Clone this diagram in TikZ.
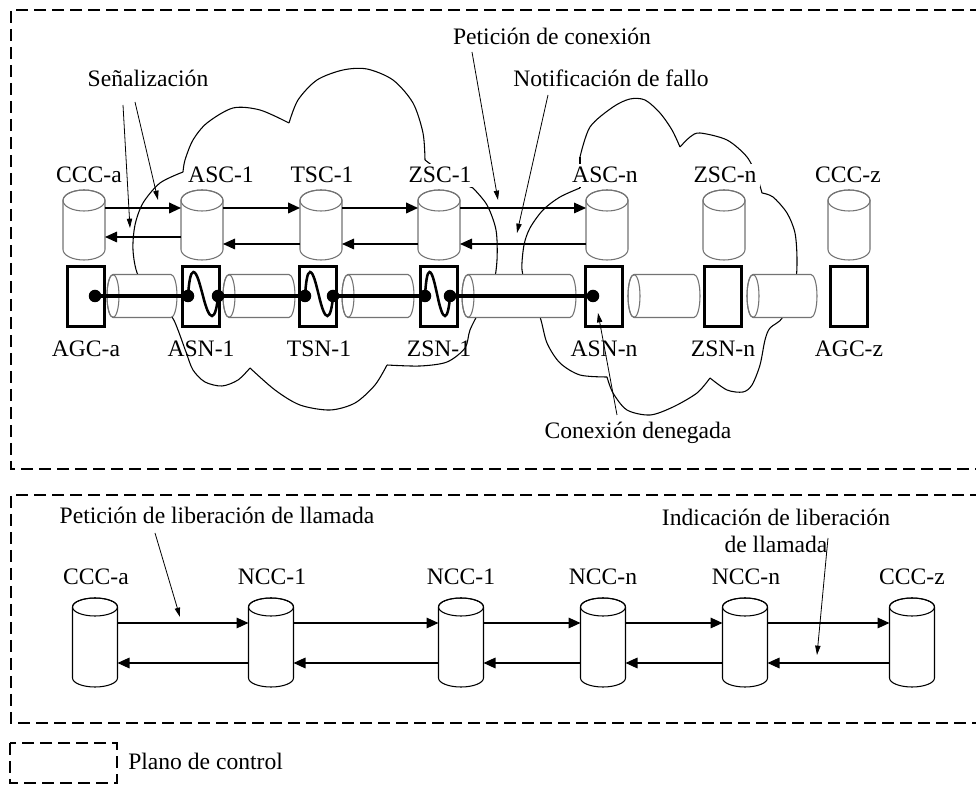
\documentclass[tikz,border=0pt]{standalone}
\usepackage{fontspec}
\setmainfont{Liberation Serif}
\usetikzlibrary{arrows.meta,calc}
\definecolor{cylgray}{gray}{0.45}

% vertical signalling controller (grey cylinder): name, centre x
\newcommand\topcyl[2]{%
  \draw[cylgray,line width=0.8pt,fill=white]
    ({#2-21},200.5) -- ({#2-21},249.5)
    arc[start angle=180,end angle=0,x radius=21,y radius=10.5]
    -- ({#2+21},200.5)
    arc[start angle=0,end angle=-180,x radius=21,y radius=10.5] -- cycle;
  \draw[cylgray,line width=0.8pt] (#2,200.5) ellipse[x radius=21,y radius=10.5];
  \node[slot,minimum width={42*0.75pt},minimum height={70*0.75pt}] (#1) at (#2,225) {};
}
% vertical call controller (black cylinder): name, centre x
\newcommand\botcyl[2]{%
  \draw[line width=0.8pt,fill=white]
    ({#2-22.5},607) -- ({#2-22.5},678)
    arc[start angle=180,end angle=0,x radius=22.5,y radius=9]
    -- ({#2+22.5},607)
    arc[start angle=0,end angle=-180,x radius=22.5,y radius=9] -- cycle;
  \draw[line width=0.8pt] (#2,607) ellipse[x radius=22.5,y radius=9];
  \node[slot,minimum width={45*0.75pt},minimum height={89*0.75pt}] (#1) at (#2,642.5) {};
}
% horizontal link (grey pipe): left x, right x
\newcommand\pipe[2]{%
  \draw[cylgray,line width=0.8pt,fill=white]
    ({#1+6},274.5) -- ({#2-6},274.5)
    arc[start angle=-90,end angle=90,x radius=6,y radius=21.5]
    -- ({#1+6},317.5)
    arc[start angle=90,end angle=270,x radius=6,y radius=21.5] -- cycle;
  \draw[cylgray,line width=0.8pt] ({#1+6},296) ellipse[x radius=6,y radius=21.5];
}
% cross-connection inside a switch: left dot x, right dot x
\newcommand\wave[2]{%
  \draw[line width=1.9pt]
    (#1,296) .. controls ({#1+0.03*(#2-#1)},283) and ({#1+0.08*(#2-#1)},272) ..
    ({#1+0.18*(#2-#1)},272) .. controls ({#1+0.30*(#2-#1)},272) and ({#1+0.40*(#2-#1)},285) ..
    ({#1+0.5*(#2-#1)},296) .. controls ({#1+0.60*(#2-#1)},308) and ({#1+0.70*(#2-#1)},316) ..
    ({#1+0.8*(#2-#1)},316) .. controls ({#1+0.90*(#2-#1)},316) and ({#1+0.97*(#2-#1)},307) ..
    (#2,296);
}

\begin{document}
\begin{tikzpicture}[x=0.75pt,y=-0.75pt,
  slot/.style={inner sep=0pt,outer sep=0pt},
  plane/.style={line width=1.5pt,dash pattern=on 9pt off 4.5pt},
  lbl/.style={font=\fontsize{17.7}{21}\selectfont,inner sep=0pt,anchor=base},
  toplbl/.style={lbl,fill=white,inner sep=2.5pt},
  sw/.style={draw,line width=2.4pt,fill=white,inner sep=0pt,
    minimum width={37*0.75pt},minimum height={60*0.75pt}},
  dot/.style={circle,fill,inner sep=0pt,minimum size={12.5*0.75pt}},
  fwd/.style={line width=1.4pt,-{Triangle[length=9pt,width=8pt]}},
  msg/.style={line width=0.8pt,-{Triangle[length=9pt,width=8pt]}},
  ptr/.style={line width=0.6pt,-{Triangle[length=7pt,width=4pt]}},
  cloud/.style={line width=0.8pt}]
\useasboundingbox (0,0) rectangle (976,787);

% control plane outlines
\draw[plane] (1000,10) -- (11,10) -- (11,469) -- (1000,469);
\draw[plane] (1000,495) -- (11,495) -- (11,723) -- (1000,723);
\draw[plane] (10,743) rectangle (117,783);

% network 1
\draw[cloud] plot[smooth] coordinates {(183,172) (185,160) (193,140) (207,123) (233,108) (260,110) (289,123)};
\draw[cloud] plot[smooth] coordinates {(289,123) (298,100) (317,80) (343,70) (367,69) (393,80) (413,103) (423,133) (425,160)};
\draw[cloud] plot[smooth] coordinates {(425,160) (450,178) (473,188)};
\draw[cloud] plot[smooth] coordinates {(473,188) (487,205) (496,230) (497,260) (493,285) (480,310) (470,330) (465,348) (447,362) (420,366) (387,365)};
\draw[cloud] plot[smooth] coordinates {(387,365) (375,385) (355,403) (330,410) (300,405) (275,390) (250,368)};
\draw[cloud] plot[smooth] coordinates {(250,368) (238,380) (222,386) (205,382) (193,370) (186,352) (178,330) (172,317) (155,295) (138,275) (133,250) (135,225) (143,203) (160,183) (183,172)};

% network n
\draw[cloud] plot[smooth] coordinates {(580,157) (590,127) (613,107) (630,99) (645,100) (660,113) (672,130) (680,147)};
\draw[cloud] plot[smooth] coordinates {(680,147) (690,137) (700,133) (727,140) (747,157) (757,177) (762,193)};
\draw[cloud] plot[smooth] coordinates {(762,193) (773,197) (787,213) (795,233) (797,260) (795,285) (783,317) (770,328) (765,340) (760,365) (752,385) (743,392) (727,390) (710,378)};
\draw[cloud] plot[smooth] coordinates {(710,378) (697,393) (673,407) (650,415) (627,410) (613,393) (607,377)};
\draw[cloud] plot[smooth] coordinates {(607,377) (580,375) (560,363) (547,343) (540,317) (528,290) (522,270) (524,245) (530,228) (543,210) (560,197) (580,188)};
\draw[cloud] (580,188) -- (580,157);

% signalling controllers
\topcyl{ccca}{84}
\topcyl{asc1}{202}
\topcyl{tsc1}{321}
\topcyl{zsc1}{439}
\topcyl{ascn}{607}
\topcyl{zscn}{724}
\topcyl{cccz}{849}

% links
\pipe{107}{177}
\pipe{223}{295}
\pipe{342}{414}
\pipe{462}{576}
\pipe{628}{700}
\pipe{747}{817}

% switches
\node[sw] (agca) at (86,296.5) {};
\node[sw] (asn1) at (201,296.5) {};
\node[sw] (tsn1) at (318,296.5) {};
\node[sw] (zsn1) at (439,296.5) {};
\node[sw] (asnn) at (604,296.5) {};
\node[sw] (zsnn) at (723,296.5) {};
\node[sw] (agcz) at (849,296.5) {};

% connection points
\node[dot] (d0) at (95,296) {};
\node[dot] (d1) at (188,296) {};
\node[dot] (d2) at (218,296) {};
\node[dot] (d3) at (305,296) {};
\node[dot] (d4) at (333,296) {};
\node[dot] (d5) at (425,296) {};
\node[dot] (d6) at (450,296) {};
\node[dot] (d7) at (593,296) {};

% established connection segments
\draw[line width=3.3pt] (d0.center) -- (d1.center);
\draw[line width=3.3pt] (d2.center) -- (d3.center);
\draw[line width=2.4pt] (d4.center) -- (d5.center);
\draw[line width=3.3pt] (d6.center) -- (d7.center);
\wave{188}{218}
\wave{305}{333}
\wave{425}{450}

% signalling messages
\draw[fwd] (ccca.east |- 0,208) -- (asc1.west |- 0,208);
\draw[fwd] (asc1.east |- 0,208) -- (tsc1.west |- 0,208);
\draw[fwd] (tsc1.east |- 0,208) -- (zsc1.west |- 0,208);
\draw[msg] (zsc1.east |- 0,208) -- (ascn.west |- 0,208);
\draw[msg] (asc1.west |- 0,237) -- (ccca.east |- 0,237);
\draw[msg] (tsc1.west |- 0,244) -- (asc1.east |- 0,244);
\draw[msg] (zsc1.west |- 0,244) -- (tsc1.east |- 0,244);
\draw[msg] (ascn.west |- 0,244) -- (zsc1.east |- 0,244);

% labels of the signalling controllers and switches
\node[toplbl] (lccca) at (89,183) {CCC-a};
\node[toplbl] (lasc1) at (221,183) {ASC-1};
\node[toplbl] (ltsc1) at (322,183) {TSC-1};
\node[toplbl] (lzsc1) at (440,183) {ZSC-1};
\node[toplbl] (lascn) at (605,183) {ASC-n};
\node[toplbl] (lzscn) at (725,183) {ZSC-n};
\node[toplbl] (lcccz) at (848,183) {CCC-z};
\node[lbl] (lagca) at (86,357) {AGC-a};
\node[lbl] (lasn1) at (201,357) {ASN-1};
\node[lbl] (ltsn1) at (319,357) {TSN-1};
\node[lbl] (lzsn1) at (439,357) {ZSN-1};
\node[lbl] (lasnn) at (604,357) {ASN-n};
\node[lbl] (lzsnn) at (723,357) {ZSN-n};
\node[lbl] (lagcz) at (849,357) {AGC-z};

% annotations, upper plane
\node[lbl] (senal) at (148,87) {Señalización};
\node[lbl] (petcon) at (552,45) {Petición de conexión};
\node[lbl] (notif) at (611,87) {Notificación de fallo};
\node[lbl] (deneg) at (638,439) {Conexión denegada};
\coordinate (s1) at (123,105);
\coordinate (s1e) at (130,228);
\coordinate (s2) at (135,102);
\coordinate (s2e) at (158,200);
\coordinate (p1) at (472,52);
\coordinate (p1e) at (498,200);
\coordinate (n1) at (548,95);
\coordinate (n1e) at (517,233);
\coordinate (c1) at (617,415);
\coordinate (c1e) at (598,313);
\draw[ptr] (s1) -- (s1e);
\draw[ptr] (s2) -- (s2e);
\draw[ptr] (p1) -- (p1e);
\draw[ptr] (n1) -- (n1e);
\draw[ptr] (c1) -- (c1e);

% call controllers, lower plane
\botcyl{bccca}{95}
\botcyl{ncc1a}{271}
\botcyl{ncc1b}{461}
\botcyl{nccna}{603}
\botcyl{nccnb}{745}
\botcyl{bcccz}{912}
\node[lbl] (lbccca) at (96,585) {CCC-a};
\node[lbl] (lncc1a) at (272,585) {NCC-1};
\node[lbl] (lncc1b) at (461,585) {NCC-1};
\node[lbl] (lnccna) at (603,585) {NCC-n};
\node[lbl] (lnccnb) at (746,585) {NCC-n};
\node[lbl] (lbcccz) at (912,585) {CCC-z};

\draw[msg] (bccca.east |- 0,623) -- (ncc1a.west |- 0,623);
\draw[msg] (ncc1a.east |- 0,623) -- (ncc1b.west |- 0,623);
\draw[msg] (ncc1b.east |- 0,623) -- (nccna.west |- 0,623);
\draw[msg] (nccna.east |- 0,623) -- (nccnb.west |- 0,623);
\draw[msg] (nccnb.east |- 0,623) -- (bcccz.west |- 0,623);
\draw[msg] (ncc1a.west |- 0,663) -- (bccca.east |- 0,663);
\draw[msg] (ncc1b.west |- 0,663) -- (ncc1a.east |- 0,663);
\draw[msg] (nccna.west |- 0,663) -- (ncc1b.east |- 0,663);
\draw[msg] (nccnb.west |- 0,663) -- (nccna.east |- 0,663);
\draw[msg] (bcccz.west |- 0,663) -- (nccnb.east |- 0,663);

% annotations, lower plane
\node[lbl] (petlib) at (217,524) {Petición de liberación de llamada};
\node[lbl] (indlib1) at (776,526) {Indicación de liberación};
\node[lbl] (indlib2) at (776,553) {de llamada};
\coordinate (r1) at (155,533);
\coordinate (r1e) at (180,617);
\coordinate (i1) at (828,538);
\coordinate (i1e) at (817,655);
\draw[ptr] (r1) -- (r1e);
\draw[ptr] (i1) -- (i1e);

% legend
\node[lbl,anchor=base west] (legend) at (128,770) {Plano de control};
\end{tikzpicture}
\end{document}
